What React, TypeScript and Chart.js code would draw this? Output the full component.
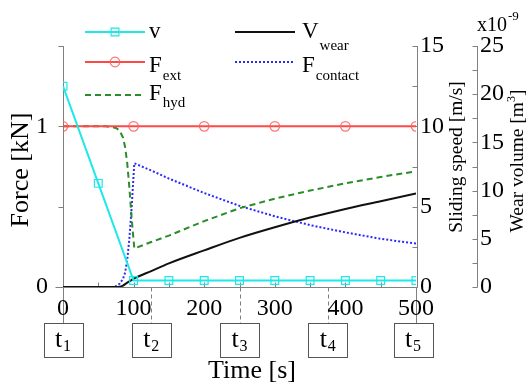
import React, { useEffect, useRef } from 'react';
import { Chart, registerables } from 'chart.js';

Chart.register(...registerables);

const SERIF = "'Liberation Serif', 'Times New Roman', serif";

// Sliding speed v [m/s] (right axis)
const speedTime = [0, 50, 100, 150, 200, 250, 300, 350, 400, 450, 500];
const speedValues = [12.5, 6.45, 0.4, 0.4, 0.4, 0.4, 0.4, 0.4, 0.4, 0.4, 0.4];

// External force F_ext [kN]
const extTime = [0, 100, 200, 300, 400, 500];
const extValues = [1, 1, 1, 1, 1, 1];

// Time samples for the remaining curves [s]
const curveTime = [0, 60, 70, 75, 80, 85, 88, 91, 94, 97, 101, 125, 150, 200, 250, 300, 350, 400, 450, 500];
// Hydrodynamic force F_hyd [kN]
const hydValues = [1, 1, 0.995, 0.99, 0.975, 0.93, 0.87, 0.77, 0.62, 0.44, 0.24, 0.28, 0.32, 0.41, 0.49, 0.55, 0.6, 0.645, 0.685, 0.72];
// Contact force F_contact [kN]
const contactValues = [0, 0, 0, 0.005, 0.02, 0.05, 0.09, 0.17, 0.3, 0.48, 0.77, 0.725, 0.675, 0.585, 0.505, 0.44, 0.385, 0.34, 0.3, 0.27];
// Wear volume V_wear [x1e-9 m^3]
const wearValues = [0, 0, 0, 0, 0.02, 0.15, 0.3, 0.45, 0.58, 0.72, 0.9, 1.65, 2.45, 3.8, 5.1, 6.2, 7.2, 8.1, 8.9, 9.7];

const xTickValues = [0, 100, 200, 300, 400, 500];
const forceLabelled = [0, 1];
const phaseTimes = [0, 125, 250, 375, 500];
const phaseLabels = ['1', '2', '3', '4', '5'];

const CYAN = '#1ee8e8';
const RED = '#ff4848';
const GREEN = '#2a8c2a';
const BLUE = '#2a2aff';
const BLACK = '#111111';
const AXIS = '#808080';

const pts = (xs: number[], ys: number[]) => xs.map((x, i) => ({ x, y: ys[i] }));

function drawSub(ctx: CanvasRenderingContext2D, main: string, sub: string, x: number, base: number, mainSize: number, subSize: number, subBase: number) {
  ctx.font = `${mainSize}px ${SERIF}`;
  ctx.textAlign = 'left';
  ctx.textBaseline = 'alphabetic';
  ctx.fillText(main, x, base);
  const w = ctx.measureText(main).width;
  if (sub) {
    ctx.font = `${subSize}px ${SERIF}`;
    ctx.fillText(sub, x + w + 1, subBase);
  }
}

const decorPlugin = {
  id: 'decor',
  beforeDraw(chart: any) {
    const { ctx, scales } = chart;
    const xs = scales.x;
    const bottom = Math.round(chart.chartArea.bottom) + 0.5;
    ctx.save();
    ctx.strokeStyle = AXIS;
    ctx.lineWidth = 1;
    phaseTimes.forEach((t, i) => {
      const px = Math.round(xs.getPixelForValue(t)) + 0.5;
      ctx.setLineDash(i === 0 || i === phaseTimes.length - 1 ? [] : [4, 3]);
      ctx.beginPath();
      ctx.moveTo(px, bottom);
      ctx.lineTo(px, 323);
      ctx.stroke();
    });
    ctx.setLineDash([]);
    // phase boxes
    phaseTimes.forEach((t, i) => {
      const cx = xs.getPixelForValue(t) - (i === phaseTimes.length - 1 ? 3 : 0);
      ctx.strokeStyle = '#555';
      ctx.fillStyle = '#fff';
      ctx.fillRect(Math.round(cx - 19.5) + 0.5, 323.5, 39, 34);
      ctx.strokeRect(Math.round(cx - 19.5) + 0.5, 323.5, 39, 34);
      ctx.fillStyle = '#000';
      ctx.font = `26px ${SERIF}`;
      const wt = ctx.measureText('t').width;
      ctx.font = `16px ${SERIF}`;
      const ws = ctx.measureText(phaseLabels[i]).width;
      const x0 = cx - (wt + ws + 1) / 2;
      drawSub(ctx, 't', phaseLabels[i], x0, 347, 26, 16, 351);
    });
    ctx.restore();
  },
  beforeDatasetsDraw(chart: any) {
    const { ctx, chartArea: a, scales } = chart;
    const xs = scales.x, yf = scales.y, ys = scales.ySpeed, yw = scales.yWear;
    ctx.save();
    ctx.strokeStyle = AXIS;
    ctx.lineWidth = 1;
    const line = (x1: number, y1: number, x2: number, y2: number) => {
      ctx.beginPath();
      ctx.moveTo(x1, y1);
      ctx.lineTo(x2, y2);
      ctx.stroke();
    };
    const bottom = Math.round(a.bottom) + 0.5;
    const left = Math.round(a.left) + 0.5;
    const right = Math.round(a.right) + 1.5;
    line(left - 8, bottom, right, bottom);
    for (let t = 50; t < 500; t += 50) {
      const px = Math.round(xs.getPixelForValue(t)) + 0.5;
      line(px, bottom, px, bottom - 5);
    }
    line(left, Math.round(a.top), left, bottom + 5);
    [0.5, 1, 1.5].forEach((v) => {
      const py = Math.round(yf.getPixelForValue(v)) + 0.5;
      line(left - 5, py, left, py);
    });
    line(right, Math.round(a.top), right, bottom);
    for (let v = 0; v <= 15; v += 2.5) {
      const py = Math.round(ys.getPixelForValue(v)) + 0.5;
      line(right - 5, py, right, py);
    }
    const wx = Math.round(yw.left) + 0.5;
    line(wx, Math.round(a.top), wx, bottom);
    for (let v = 0; v <= 25; v += 2.5) {
      const py = Math.round(yw.getPixelForValue(v)) + 0.5;
      line(wx - 5, py, wx, py);
    }
    ctx.restore();
  },
  afterDraw(chart: any) {
    const { ctx } = chart;
    const ds = chart.data.datasets;
    ctx.save();
    ctx.fillStyle = '#000';
    // axis titles
    ctx.font = `26px ${SERIF}`;
    ctx.textAlign = 'center';
    ctx.textBaseline = 'alphabetic';
    ctx.fillText('Time [s]', 252, 378);
    ctx.save();
    ctx.translate(28, 170);
    ctx.rotate(-Math.PI / 2);
    ctx.fillText('Force [kN]', 0, 0);
    ctx.restore();
    ctx.save();
    ctx.font = `19.5px ${SERIF}`;
    ctx.translate(462, 157);
    ctx.rotate(-Math.PI / 2);
    ctx.fillText('Sliding speed [m/s]', 0, 0);
    ctx.restore();
    ctx.save();
    ctx.translate(523, 161);
    ctx.rotate(-Math.PI / 2);
    ctx.font = `19.5px ${SERIF}`;
    const p1 = 'Wear volume [m';
    const p3 = ']';
    const w1 = ctx.measureText(p1).width;
    const w3 = ctx.measureText(p3).width;
    ctx.font = `12px ${SERIF}`;
    const w2 = ctx.measureText('3').width;
    const total = w1 + w2 + w3;
    ctx.textAlign = 'left';
    ctx.font = `19.5px ${SERIF}`;
    ctx.fillText(p1, -total / 2, 0);
    ctx.fillText(p3, -total / 2 + w1 + w2, 0);
    ctx.font = `12px ${SERIF}`;
    ctx.fillText('3', -total / 2 + w1, -8);
    ctx.restore();
    // exponent
    drawSub(ctx, 'x10', '-9', 477, 31, 20, 13, 20);

    // legend
    const entries = [
      { i: 0, x1: 85, x2: 145, y: 32, tx: 149, base: 38, main: 'v', sub: '', sb: 0 },
      { i: 3, x1: 235, x2: 295, y: 32, tx: 302, base: 38, main: 'V', sub: 'wear', sb: 50 },
      { i: 1, x1: 85, x2: 145, y: 62, tx: 149, base: 72, main: 'F', sub: 'ext', sb: 80 },
      { i: 4, x1: 235, x2: 295, y: 62, tx: 302, base: 72, main: 'F', sub: 'contact', sb: 80 },
      { i: 2, x1: 85, x2: 145, y: 95, tx: 149, base: 100, main: 'F', sub: 'hyd', sb: 107 },
    ];
    entries.forEach((e) => {
      const d = ds[e.i];
      ctx.save();
      ctx.strokeStyle = d.borderColor;
      ctx.lineWidth = d.borderWidth;
      ctx.setLineDash(d.borderDash || []);
      ctx.beginPath();
      ctx.moveTo(e.x1, e.y);
      ctx.lineTo(e.x2, e.y);
      ctx.stroke();
      ctx.setLineDash([]);
      if (d.pointRadius > 0) {
        const cx = (e.x1 + e.x2) / 2;
        ctx.strokeStyle = d.pointBorderColor;
        ctx.lineWidth = d.pointBorderWidth;
        ctx.beginPath();
        if (d.pointStyle === 'rect') {
          const s = d.pointRadius / Math.SQRT2;
          ctx.rect(cx - s, e.y - s, 2 * s, 2 * s);
        } else {
          ctx.arc(cx, e.y, d.pointRadius, 0, Math.PI * 2);
        }
        ctx.stroke();
      }
      ctx.restore();
      ctx.fillStyle = '#000';
      drawSub(ctx, e.main, e.sub, e.tx, e.base, 23, 15, e.sb);
    });
    ctx.restore();
  },
};

export default function App() {
  const canvasRef = useRef<HTMLCanvasElement | null>(null);

  useEffect(() => {
    if (!canvasRef.current) return;
    const tickFont = { family: SERIF, size: 24 };
    const chart = new Chart(canvasRef.current, {
      type: 'line',
      data: {
        datasets: [
          {
            label: 'v',
            data: pts(speedTime, speedValues),
            yAxisID: 'ySpeed',
            borderColor: CYAN,
            borderWidth: 2,
            pointStyle: 'rect',
            pointRadius: 5.5,
            pointBorderColor: CYAN,
            pointBackgroundColor: 'rgba(0,0,0,0)',
            pointBorderWidth: 1.2,
            tension: 0,
          },
          {
            label: 'F_ext',
            data: pts(extTime, extValues),
            yAxisID: 'y',
            borderColor: RED,
            borderWidth: 2,
            pointStyle: 'circle',
            pointRadius: 4.8,
            pointBorderColor: 'rgba(255,90,90,0.85)',
            pointBackgroundColor: 'rgba(0,0,0,0)',
            pointBorderWidth: 1.2,
            tension: 0,
          },
          {
            label: 'F_hyd',
            data: pts(curveTime, hydValues),
            yAxisID: 'y',
            borderColor: GREEN,
            borderWidth: 2,
            borderDash: [6, 4],
            pointRadius: 0,
            tension: 0,
          },
          {
            label: 'V_wear',
            data: pts(curveTime, wearValues),
            yAxisID: 'yWear',
            borderColor: BLACK,
            borderWidth: 2,
            pointRadius: 0,
            cubicInterpolationMode: 'monotone',
          },
          {
            label: 'F_contact',
            data: pts(curveTime, contactValues),
            yAxisID: 'y',
            borderColor: BLUE,
            borderWidth: 2,
            borderDash: [2, 2],
            pointRadius: 0,
            tension: 0,
          },
        ],
      },
      options: {
        animation: false,
        responsive: false,
        maintainAspectRatio: false,
        layout: { padding: { top: 46, left: 0, right: 0, bottom: 0 } },
        plugins: { legend: { display: false }, tooltip: { enabled: false } },
        scales: {
          x: {
            type: 'linear',
            position: 'bottom',
            min: 0,
            max: 500,
            afterBuildTicks: (s: any) => {
              s.ticks = xTickValues.map((v) => ({ value: v }));
            },
            afterFit: (s: any) => {
              s.height = 103;
            },
            ticks: { font: tickFont, color: '#000', padding: 7, maxRotation: 0, autoSkip: false },
            grid: { display: true, drawOnChartArea: false, drawTicks: false },
            border: { display: false },
          },
          y: {
            type: 'linear',
            position: 'left',
            min: 0,
            max: 1.5,
            afterFit: (s: any) => {
              s.width = 63;
            },
            ticks: {
              stepSize: 0.5,
              font: tickFont,
              color: '#000',
              padding: 15,
              callback: (v: any) => (forceLabelled.includes(Number(v)) ? String(v) : ''),
            },
            grid: { display: true, drawOnChartArea: false, drawTicks: false },
            border: { display: false },
          },
          ySpeed: {
            type: 'linear',
            position: 'right',
            weight: 0,
            min: 0,
            max: 15,
            afterFit: (s: any) => {
              s.width = 61;
            },
            ticks: {
              stepSize: 2.5,
              font: tickFont,
              color: '#000',
              padding: 4,
              callback: (v: any) => (Number(v) % 5 === 0 ? String(v) : ''),
            },
            grid: { display: true, drawOnChartArea: false, drawTicks: false },
            border: { display: false },
          },
          yWear: {
            type: 'linear',
            position: 'right',
            weight: 1,
            min: 0,
            max: 25,
            afterFit: (s: any) => {
              s.width = 52;
            },
            ticks: {
              stepSize: 2.5,
              font: tickFont,
              color: '#000',
              padding: 3,
              callback: (v: any) => (Number(v) % 5 === 0 ? String(v) : ''),
            },
            grid: { display: true, drawOnChartArea: false, drawTicks: false },
            border: { display: false },
          },
        },
      },
      plugins: [decorPlugin],
    } as any);
    return () => chart.destroy();
  }, []);

  return (
    <div style={{ position: 'fixed', left: 0, top: 0, width: 529, height: 390, background: '#fff' }}>
      <canvas ref={canvasRef} width={529} height={390} style={{ width: 529, height: 390, display: 'block' }} />
    </div>
  );
}
